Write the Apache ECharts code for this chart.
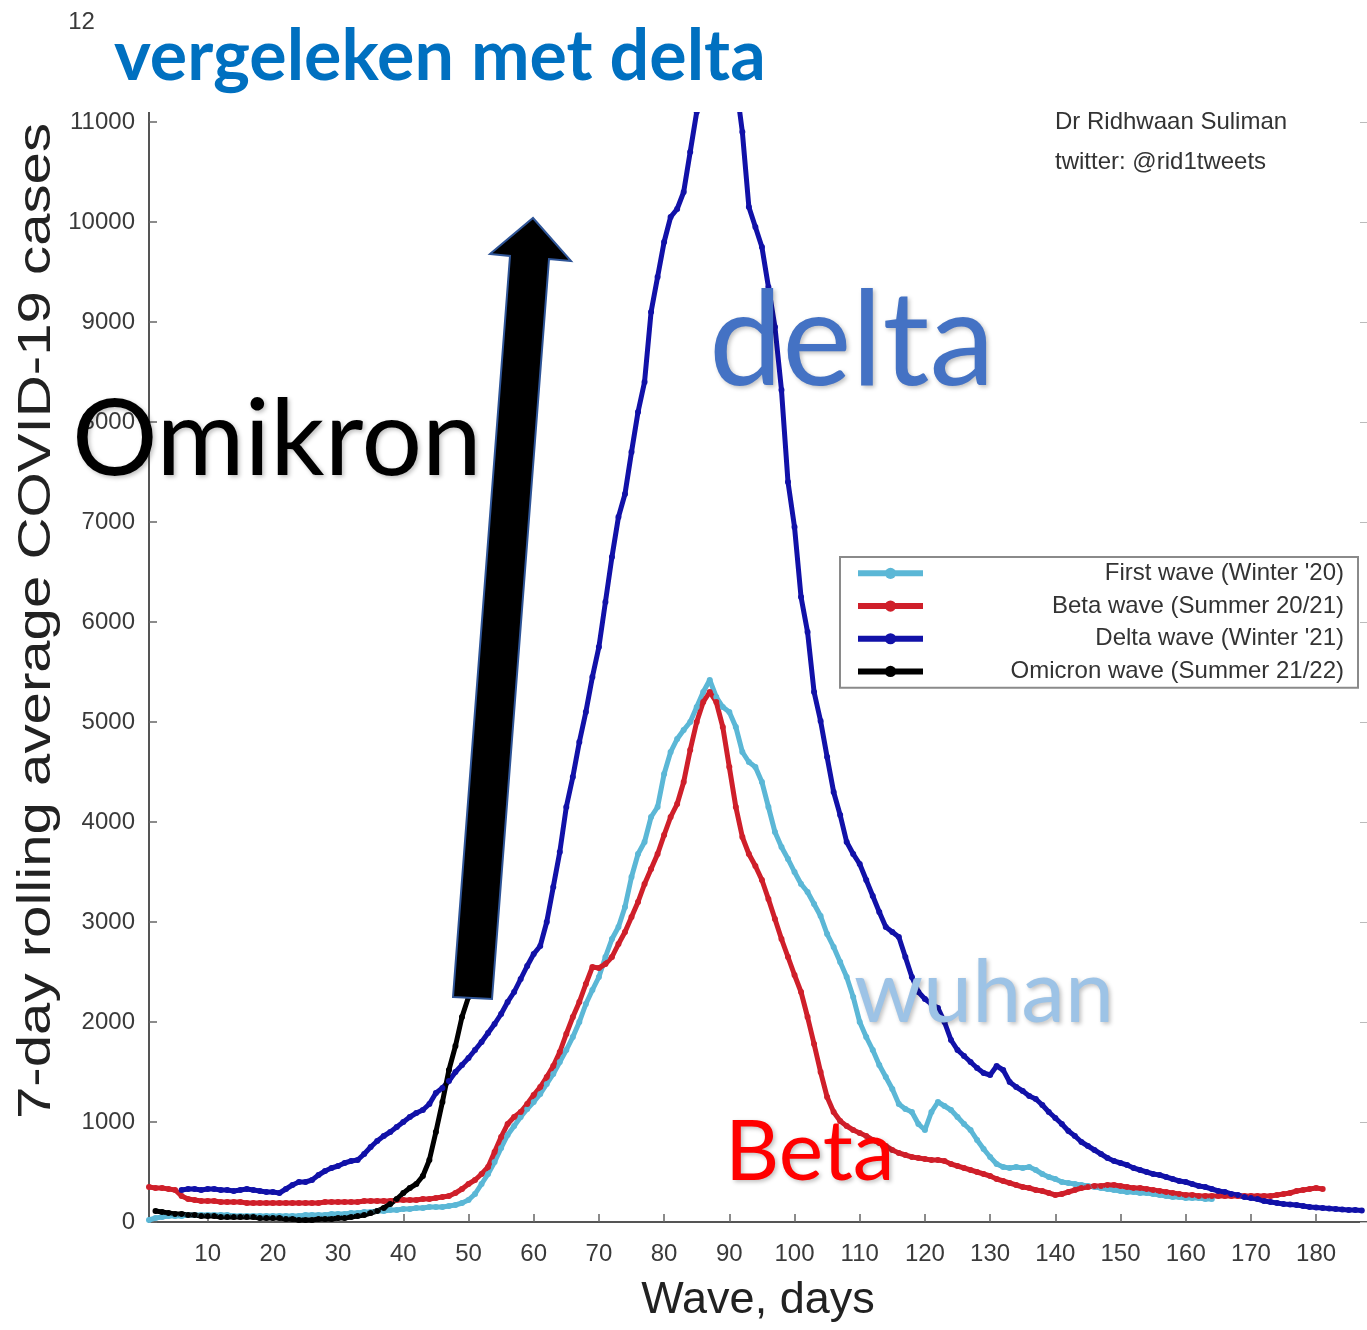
<!DOCTYPE html>
<html>
<head>
<meta charset="utf-8">
<title>Omikron vergeleken met delta</title>
<script src="https://cdn.jsdelivr.net/npm/echarts@6/dist/echarts.min.js"></script>
<style>
  html, body { margin: 0; padding: 0; background: #fff; }
  #chart { width: 1367px; height: 1330px; }
</style>
</head>
<body>
<div id="chart"></div>
<script>
// first day of each series (x = wave day)
const firstStart = 1;
const betaStart = 1;
const deltaStart = 6;
const omicronStart = 2;

// 7-day rolling average cases, one value per day
const firstWave = [
  20, 40, 50, 60, 60, 60, 70, 70, 70, 70,
  70, 70, 70, 60, 60, 60, 60, 60, 60, 60,
  60, 60, 60, 60, 70, 70, 70, 70, 80, 80,
  80, 90, 90, 100, 100, 110, 110, 120, 120, 130,
  130, 140, 140, 150, 150, 150, 160, 170, 190, 220,
  280, 380, 480, 600, 740, 870, 960, 1050, 1130, 1200,
  1280, 1380, 1480, 1600, 1720, 1850, 2000, 2180, 2320, 2450,
  2650, 2830, 2950, 3150, 3450, 3680, 3800, 4050, 4150, 4480,
  4700, 4830, 4920, 5000, 5150, 5300, 5420, 5250, 5150, 5100,
  4950, 4700, 4600, 4550, 4400, 4150, 3900, 3750, 3630, 3500,
  3380, 3300, 3180, 3060, 2880, 2750, 2600, 2450, 2250, 2000,
  1850, 1720, 1570, 1450, 1330, 1180, 1130, 1100, 980, 920,
  1100, 1200, 1160, 1120, 1050, 980, 920, 820, 730, 650,
  580, 550, 540, 550, 540, 550, 520, 480, 450, 430,
  400, 390, 380, 370, 360, 350, 340, 330, 320, 310,
  300, 300, 290, 290, 280, 270, 260, 250, 250, 240,
  240, 240, 230, 230
];

const betaWave = [
  350, 340, 340, 330, 320, 260, 230, 220, 210, 210,
  210, 200, 200, 200, 200, 190, 190, 190, 190, 190,
  190, 190, 190, 190, 190, 190, 190, 200, 200, 200,
  200, 200, 200, 210, 210, 210, 210, 210, 220, 220,
  220, 220, 230, 230, 240, 250, 260, 290, 330, 380,
  420, 480, 550, 700, 850, 980, 1050, 1100, 1180, 1270,
  1350, 1450, 1560, 1700, 1880, 2050, 2200, 2380, 2550, 2540,
  2580, 2650, 2780, 2900, 3050, 3200, 3380, 3530, 3680, 3870,
  4050, 4180, 4400, 4720, 5000, 5200, 5300, 5200, 4950, 4550,
  4150, 3850, 3680, 3560, 3420, 3230, 3030, 2830, 2650, 2470,
  2300, 2050, 1780, 1500, 1250, 1100, 1010, 960, 920, 890,
  860, 820, 790, 760, 720, 690, 670, 650, 640, 630,
  620, 620, 610, 580, 560, 540, 520, 500, 480, 460,
  430, 410, 390, 370, 350, 340, 320, 310, 290, 270,
  280, 300, 320, 340, 350, 360, 360, 370, 370, 360,
  350, 340, 340, 330, 320, 310, 300, 290, 280, 270,
  270, 260, 260, 260, 260, 260, 260, 260, 260, 260,
  260, 260, 260, 270, 280, 290, 310, 320, 330, 340,
  330
];

const deltaWave = [
  320, 330, 330, 320, 330,
  330, 320, 320, 310, 320, 330, 320, 310, 300, 300,
  290, 330, 370, 400, 400, 420, 470, 510, 540, 560,
  590, 610, 620, 680, 750, 810, 860, 900, 950, 1000,
  1050, 1090, 1120, 1180, 1290, 1340, 1410, 1500, 1570, 1640,
  1720, 1800, 1890, 1980, 2080, 2200, 2300, 2430, 2560, 2680,
  2760, 3000, 3350, 3700, 4150, 4450, 4800, 5100, 5450, 5750,
  6200, 6650, 7050, 7280, 7700, 8100, 8400, 9100, 9450, 9800,
  10050, 10130, 10300, 10700, 11100, 11500, 11850, 11950, 11900, 11700,
  11400, 10900, 10150, 9950, 9750, 9350, 8950, 8320, 7400, 6950,
  6250, 5900, 5300, 5010, 4650, 4300, 4070, 3800, 3680, 3580,
  3420, 3260, 3100, 2950, 2900, 2850, 2650, 2450, 2300, 2230,
  2180, 2140, 2000, 1820, 1720, 1660, 1600, 1540, 1490, 1470,
  1560, 1520, 1400, 1350, 1310, 1260, 1230, 1170, 1100, 1040,
  980, 910, 860, 800, 760, 720, 680, 640, 610, 590,
  570, 540, 520, 500, 480, 470, 450, 430, 410, 400,
  380, 360, 350, 330, 310, 300, 280, 270, 250, 240,
  230, 210, 200, 190, 180, 175, 170, 160, 150, 145,
  140, 135, 130, 125, 120, 120, 115
];

const omicronWave = [
  110, 100, 90, 80, 80, 70, 70, 60, 60,
  60, 50, 50, 50, 50, 50, 50, 40, 40, 40,
  40, 30, 30, 20, 20, 20, 30, 30, 30, 40,
  40, 50, 60, 70, 90, 110, 140, 180, 230, 290,
  340, 380, 460, 620, 900, 1200, 1520, 1760, 2050, 2250
];

const seriesNames = [
  'First wave (Winter \'20)',
  'Beta wave (Summer 20/21)',
  'Delta wave (Winter \'21)',
  'Omicron wave (Summer 21/22)'
];
const seriesColors = ['#5bb7d6', '#cf1f2a', '#1111a8', '#000000'];

const dayMin = 1;
const dayMax = 187.8;
const casesMax = 12000;

const plotFont = "'Liberation Sans', Arial, sans-serif";
const slideFont = "Lato, 'Open Sans', sans-serif";

const toPairs = (start, values) => values.map((v, i) => [start + i, v]);

const waves = [
  toPairs(firstStart, firstWave),
  toPairs(betaStart, betaWave),
  toPairs(deltaStart, deltaWave),
  toPairs(omicronStart, omicronWave)
];

const chart = echarts.init(document.getElementById('chart'));

const shadow = {
  textShadowColor: 'rgba(0,0,0,0.25)',
  textShadowBlur: 4,
  textShadowOffsetX: 2,
  textShadowOffsetY: 2
};

const option = {
  animation: false,
  backgroundColor: '#ffffff',
  grid: {
    left: 149,
    right: 0,
    top: 22,
    bottom: 108,
    containLabel: false,
    outerBoundsMode: 'none'
  },
  legend: {
    orient: 'vertical',
    left: 840,
    top: 557,
    itemWidth: 65,
    itemHeight: 14,
    itemGap: 0,
    padding: [0, 14, 0, 15],
    borderColor: '#8a8a8a',
    borderWidth: 2,
    backgroundColor: '#ffffff',
    lineStyle: { width: 6 },
    data: seriesNames,
    formatter: '{t|{name}}',
    textStyle: {
      fontFamily: plotFont,
      fontSize: 24,
      lineHeight: 32.7,
      color: '#333',
      rich: {
        t: {
          width: 416,
          height: 32.7,
          align: 'right',
          fontFamily: plotFont,
          fontSize: 24,
          lineHeight: 32.7,
          color: '#333'
        }
      }
    }
  },
  xAxis: {
    type: 'value',
    min: dayMin,
    max: dayMax,
    minInterval: 10,
    maxInterval: 10,
    name: 'Wave, days',
    nameLocation: 'middle',
    nameGap: 56,
    nameTextStyle: { fontFamily: plotFont, fontSize: 45, color: '#222' },
    axisLine: { lineStyle: { color: '#555', width: 2 } },
    axisTick: { inside: true, length: 8, lineStyle: { color: '#666', width: 1.5 } },
    axisLabel: {
      margin: 20,
      showMinLabel: false,
      showMaxLabel: false,
      fontFamily: plotFont,
      fontSize: 24,
      color: '#3a3a3a',
      formatter: (v) => (v % 10 === 0 ? String(v) : '')
    },
    splitLine: { show: false }
  },
  yAxis: [
    {
      type: 'value',
      min: 0,
      max: casesMax,
      interval: 1000,
      axisLine: { show: true, lineStyle: { color: '#555', width: 2 } },
      axisTick: { show: true, inside: true, length: 8, lineStyle: { color: '#666', width: 1.5 } },
      axisLabel: {
        margin: 14,
        fontFamily: plotFont,
        fontSize: 24,
        color: '#3a3a3a',
        formatter: (v) => String(v)
      },
      splitLine: { show: false }
    },
    {
      type: 'value',
      position: 'right',
      min: 0,
      max: casesMax,
      interval: 1000,
      axisLine: { show: false },
      axisTick: { show: true, inside: true, length: 7, lineStyle: { color: '#bbb' } },
      axisLabel: { show: false },
      splitLine: { show: false }
    }
  ],
  series: waves.map((data, i) => ({
    name: seriesNames[i],
    type: 'line',
    data: data,
    symbol: 'circle',
    symbolSize: 6,
    showSymbol: true,
    lineStyle: { width: 5, color: seriesColors[i] },
    itemStyle: { color: seriesColors[i] },
    emphasis: { disabled: true }
  })),
  graphic: {
    elements: [
      // credit, partly hidden behind the title box
      {
        type: 'text', x: 1055, y: 122, z: 1,
        style: { text: 'Dr Ridhwaan Suliman', font: '24px ' + plotFont, fill: '#333', verticalAlign: 'middle' }
      },
      {
        type: 'text', x: 1055, y: 162, z: 1,
        style: { text: 'twitter: @rid1tweets', font: '24px ' + plotFont, fill: '#333', verticalAlign: 'middle' }
      },
      {
        type: 'rect', z: 10,
        shape: { x: 95, y: 0, width: 1272, height: 112 },
        style: { fill: '#ffffff' }
      },
      {
        type: 'text', x: 114, y: 57, z: 11,
        style: { text: 'vergeleken met delta', font: 'bold 70px ' + slideFont, fill: '#0070c0', verticalAlign: 'middle' }
      },
      // y axis title
      {
        type: 'text', x: 37, y: 621, z: 11, rotation: Math.PI / 2, scaleX: 1.265,
        style: {
          text: '7-day rolling average COVID-19 cases',
          font: '46px ' + plotFont,
          fill: '#222', align: 'center', verticalAlign: 'middle'
        }
      },
      // omicron arrow
      {
        type: 'polygon', z: 20,
        shape: { points: [[453, 997], [492, 999], [549, 259], [571, 261], [533, 218], [490, 254], [510, 256]] },
        style: { fill: '#000', stroke: '#2f5597', lineWidth: 2 }
      },
      {
        type: 'text', x: 72, y: 440, z: 21,
        style: Object.assign({ text: 'Omikron', font: '107px ' + slideFont, fill: '#000', verticalAlign: 'middle' }, shadow)
      },
      {
        type: 'text', x: 709, y: 343, z: 21,
        style: Object.assign({ text: 'delta', font: '131px ' + slideFont, fill: '#4472c4', verticalAlign: 'middle' }, shadow)
      },
      {
        type: 'text', x: 854, y: 994, z: 21,
        style: Object.assign({ text: 'wuhan', font: '88px ' + slideFont, fill: '#9dc3e6', verticalAlign: 'middle' }, shadow)
      },
      {
        type: 'text', x: 725, y: 1153, z: 21,
        style: Object.assign({ text: 'Beta', font: '84px ' + slideFont, fill: '#ff0000', verticalAlign: 'middle' }, shadow)
      }
    ]
  }
};

chart.setOption(option);
</script>
</body>
</html>
